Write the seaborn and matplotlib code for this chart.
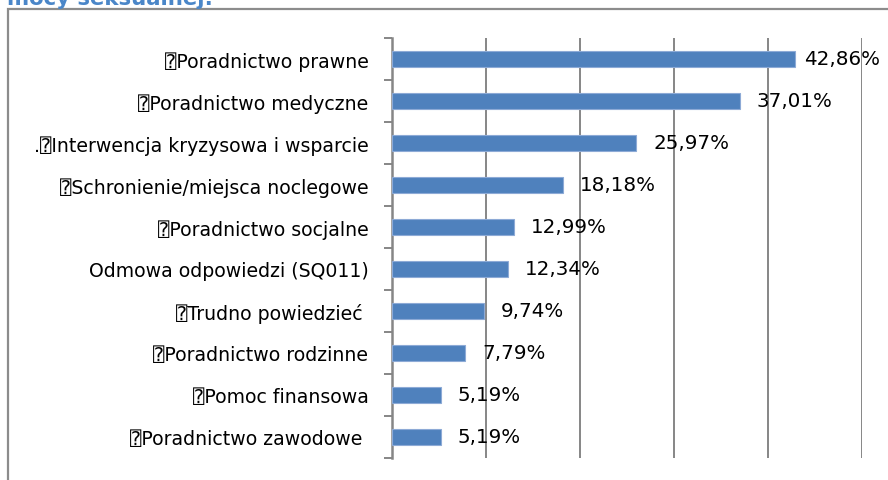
import matplotlib
matplotlib.use("Agg")
import matplotlib.pyplot as plt
import matplotlib.patches as mpatches
import pandas as pd
import seaborn as sns

# Survey answers and their shares (%)
categories = [
    "\u2370Poradnictwo prawne",
    "\u2370Poradnictwo medyczne",
    ".\u2370Interwencja kryzysowa i wsparcie",
    "\u2370Schronienie/miejsca noclegowe",
    "\u2370Poradnictwo socjalne",
    "Odmowa odpowiedzi (SQ011)",
    "\u2370Trudno powiedzieć ",
    "\u2370Poradnictwo rodzinne",
    "\u2370Pomoc finansowa",
    "\u2370Poradnictwo zawodowe ",
]
values = [42.86, 37.01, 25.97, 18.18, 12.99, 12.34, 9.74, 7.79, 5.19, 5.19]
value_labels = ["42,86%", "37,01%", "25,97%", "18,18%", "12,99%",
                "12,34%", "9,74%", "7,79%", "5,19%", "5,19%"]
title_text = "mocy seksualnej:"

df = pd.DataFrame({"kategoria": categories, "procent": values})

sns.set_theme(style="white")
plt.rcParams["font.family"] = ["DejaVu Sans", "DejaVu Sans Mono"]

W, H = 888, 481
fig = plt.figure(figsize=(W / 100, H / 100), dpi=100)
ax = fig.add_axes([392 / W, 1 - 459 / H, (862 - 392) / W, (459 - 39) / H])

sns.barplot(data=df, x="procent", y="kategoria", orient="h", ax=ax,
            color="#4F81BD", width=0.4, edgecolor="#8DAAD6", linewidth=0.8,
            saturation=1, zorder=3)

ax.set_xlim(0, 50)
ax.set_ylim(9.5, -0.5)
ax.set_xlabel("")
ax.set_ylabel("")

grid_col = "#868686"
ax.set_xticks([10, 20, 30, 40, 50])
ax.tick_params(axis="x", length=0, labelbottom=False)
ax.grid(axis="x", color=grid_col, linewidth=1.4, zorder=1)
ax.grid(axis="y", visible=False)

# category boundaries get the small tick marks, names sit on minor ticks
n = len(categories)
ax.set_yticks([i - 0.5 for i in range(n + 1)])
ax.set_yticklabels([])
ax.tick_params(axis="y", which="major", length=6, width=1.4, color=grid_col, left=True)
ax.set_yticks(range(n), minor=True)
ax.set_yticklabels(categories, minor=True, fontsize=13.6, color="#000000")
ax.tick_params(axis="y", which="minor", length=0, pad=17)

for side in ["top", "right", "bottom"]:
    ax.spines[side].set_visible(False)
ax.spines["left"].set_color(grid_col)
ax.spines["left"].set_linewidth(1.8)

for i, (v, lab) in enumerate(zip(values, value_labels)):
    ax.text(min(v + 1.8, 43.8), i, lab, va="center", ha="left",
            fontsize=14.3, color="#000000", zorder=4)

# outer chart frame
frame = mpatches.Rectangle((8 / W, -0.1), 1.5, 1 - 10 / H + 0.1,
                           transform=fig.transFigure, fill=False,
                           edgecolor="#8C8C8C", linewidth=1.6, clip_on=False)
fig.add_artist(frame)

fig.text(7 / W, 1 - 5 / H, title_text, ha="left", va="baseline",
         fontsize=15.3, fontweight="bold", color="#4A86C8")

fig.savefig("out.png", dpi=100, facecolor="white")
